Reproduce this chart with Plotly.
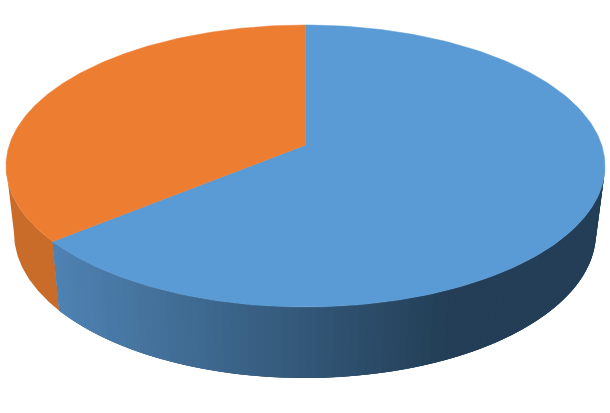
import numpy as np
import plotly.graph_objects as go

categories = ["Blue", "Orange"]
values = [66, 34]
top_colors = ["#5B9BD5", "#ED7D31"]

# Pixel-space projection of the pie disc
CX, CY, RX, RY = 305.5, 166.0, 299.5, 141.0
BX, BY, BRX, BRY = 305.0, 233.0, 291.0, 145.0
APEX_Y = 145.0

def top(a):
    # a: clockwise angle from 12 o'clock, radians
    return CX + RX * np.sin(a), CY - RY * np.cos(a)

def bottom(a):
    return BX + BRX * np.sin(a), BY - BRY * np.cos(a)

def mix(c1, c2, t):
    return "rgb(%d,%d,%d)" % tuple(round(a + (b - a) * t) for a, b in zip(c1, c2))

total = sum(values)
blue_end = 2 * np.pi * values[0] / total

fig = go.Figure()

def wall(a0, a1, color):
    aa = np.linspace(a0, a1, max(4, int((a1 - a0) * 120)))
    tx, ty = top(aa)
    bx, by = bottom(aa[::-1])
    fig.add_trace(go.Scatter(x=np.r_[tx, bx, tx[0]], y=np.r_[ty, by, ty[0]],
                             mode="lines", fill="toself", fillcolor=color,
                             line=dict(width=0), hoverinfo="skip", showlegend=False))

# Side wall: orange part as one piece
wall(blue_end, 1.5 * np.pi, "#C96C2A")

# Blue part: left-to-right dark gradient; each band runs under the next one drawn
DARK = (35, 62, 86)
LIGHT = (78, 130, 178)
EDGE = np.linspace(0.5 * np.pi, blue_end, 90)
for i in range(len(EDGE) - 1):
    a0, a1 = EDGE[i], EDGE[min(i + 3, len(EDGE) - 1)]
    xm = top((EDGE[i] + EDGE[i + 1]) / 2)[0]
    t = np.clip((xm - 55) / (450 - 55), 0, 1)
    wall(a0, a1, mix(LIGHT, DARK, t))

# Top face slices
def wedge(a0, a1, color, name):
    aa = np.linspace(a0, a1, 240)
    xs, ys = top(aa)
    xs = np.r_[CX, xs, CX]
    ys = np.r_[APEX_Y, ys, APEX_Y]
    fig.add_trace(go.Scatter(x=xs, y=ys, mode="lines", fill="toself", fillcolor=color,
                             line=dict(color=color, width=0.5), name=name,
                             hoverinfo="name", showlegend=False))

wedge(0, blue_end, top_colors[0], categories[0])
wedge(blue_end, 2 * np.pi, top_colors[1], categories[1])

fig.update_layout(
    width=610, height=413, margin=dict(l=0, r=0, t=0, b=0),
    paper_bgcolor="white", plot_bgcolor="white",
    xaxis=dict(range=[0, 610], visible=False, fixedrange=True),
    yaxis=dict(range=[413, 0], visible=False, fixedrange=True),
)
fig.write_html("out.html", config=dict(displayModeBar=False),
               post_script="document.body.style.margin='0';document.documentElement.style.overflow='hidden';")
